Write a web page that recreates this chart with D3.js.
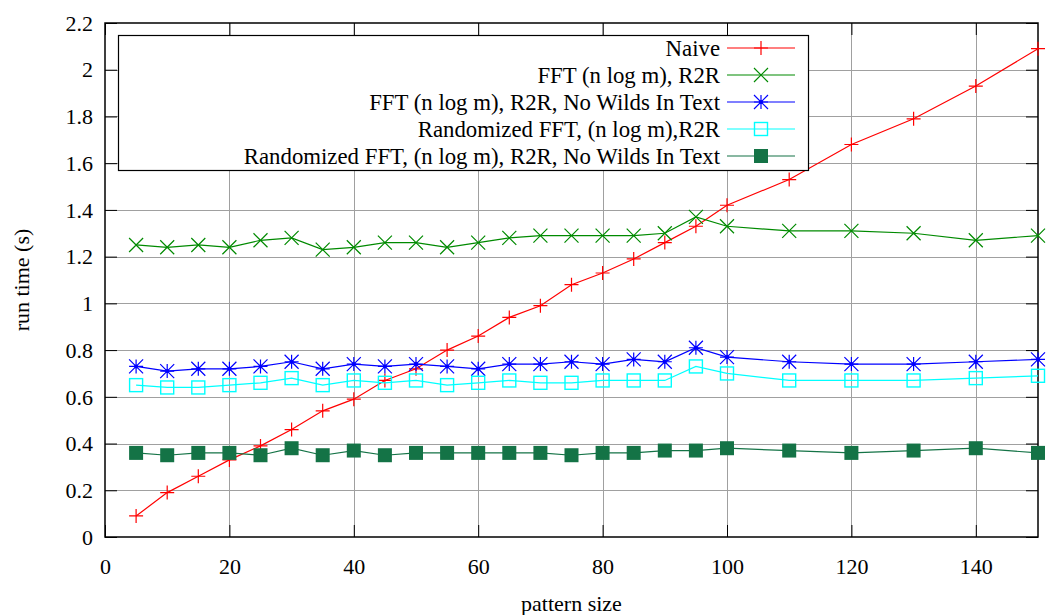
<!DOCTYPE html>
<html>
<head>
<meta charset="utf-8">
<script src="https://cdn.jsdelivr.net/npm/d3@7"></script>
<style>
  html, body { margin: 0; padding: 0; background: #fff; }
  svg, svg text { font-family: "Liberation Serif", "DejaVu Serif", serif; }
  svg { display: block; }
</style>
</head>
<body>
<svg id="chart" width="1047" height="615"></svg>
<script>
// Pattern sizes measured
const patternSizes = [5, 10, 15, 20, 25, 30, 35, 40, 45, 50, 55, 60, 65, 70, 75, 80, 85, 90, 95, 100, 110, 120, 130, 140, 150];

// Run times (seconds) per algorithm
const naive        = [0.09, 0.19, 0.26, 0.33, 0.39, 0.46, 0.54, 0.59, 0.67, 0.72, 0.80, 0.86, 0.94, 0.99, 1.08, 1.13, 1.19, 1.26, 1.33, 1.42, 1.53, 1.68, 1.79, 1.93, 2.09];
const fftR2R       = [1.25, 1.24, 1.25, 1.24, 1.27, 1.28, 1.23, 1.24, 1.26, 1.26, 1.24, 1.26, 1.28, 1.29, 1.29, 1.29, 1.29, 1.30, 1.37, 1.33, 1.31, 1.31, 1.30, 1.27, 1.29];
const fftNoWilds   = [0.73, 0.71, 0.72, 0.72, 0.73, 0.75, 0.72, 0.74, 0.73, 0.74, 0.73, 0.72, 0.74, 0.74, 0.75, 0.74, 0.76, 0.75, 0.81, 0.77, 0.75, 0.74, 0.74, 0.75, 0.76];
const randFFT      = [0.65, 0.64, 0.64, 0.65, 0.66, 0.68, 0.65, 0.67, 0.66, 0.67, 0.65, 0.66, 0.67, 0.66, 0.66, 0.67, 0.67, 0.67, 0.73, 0.70, 0.67, 0.67, 0.67, 0.68, 0.69];
const randNoWilds  = [0.36, 0.35, 0.36, 0.36, 0.35, 0.38, 0.35, 0.37, 0.35, 0.36, 0.36, 0.36, 0.36, 0.36, 0.35, 0.36, 0.36, 0.37, 0.37, 0.38, 0.37, 0.36, 0.37, 0.38, 0.36];

const seriesNames = [
  "Naive",
  "FFT (n log m), R2R",
  "FFT (n log m), R2R, No Wilds In Text",
  "Randomized FFT, (n log m),R2R",
  "Randomized FFT, (n log m), R2R, No Wilds In Text"
];

const xTicks = [0, 20, 40, 60, 80, 100, 120, 140];
const yTicks = [0, 0.2, 0.4, 0.6, 0.8, 1, 1.2, 1.4, 1.6, 1.8, 2, 2.2];

const series = [
  { name: seriesNames[0], values: naive,       color: "#ff0000", marker: "plus" },
  { name: seriesNames[1], values: fftR2R,      color: "#008a00", marker: "cross" },
  { name: seriesNames[2], values: fftNoWilds,  color: "#0000ff", marker: "star" },
  { name: seriesNames[3], values: randFFT,     color: "#00ffff", marker: "box" },
  { name: seriesNames[4], values: randNoWilds, color: "#147346", marker: "fbox" }
];

const FS = 22;
const svg = d3.select("#chart");
const W = 1047, H = 615;
const margin = { left: 105, right: W - 1038, top: 23, bottom: H - 537 };

const x = d3.scaleLinear().domain([0, 150]).range([margin.left, W - margin.right]);
const y = d3.scaleLinear().domain([0, 2.2]).range([H - margin.bottom, margin.top]);

const x0 = x.range()[0], x1 = x.range()[1], y0 = y.range()[0], y1 = y.range()[1];

// Grid
const grid = svg.append("g").attr("stroke", "#a0a0a0").attr("stroke-width", 1);
grid.selectAll("line.gx").data(xTicks.filter(d => d > 0)).join("line")
  .attr("x1", d => Math.round(x(d)) + 0.5).attr("x2", d => Math.round(x(d)) + 0.5)
  .attr("y1", y1).attr("y2", y0);
grid.selectAll("line.gy").data(yTicks.filter(d => d > 0 && d < 2.2)).join("line")
  .attr("y1", d => Math.round(y(d)) + 0.5).attr("y2", d => Math.round(y(d)) + 0.5)
  .attr("x1", x0).attr("x2", x1);

// Axes (ticks inward, mirrored on top and right)
const tickLen = 12;
const fmt = d3.format("~g");
const axL = d3.axisLeft(y).tickValues(yTicks).tickSize(-tickLen).tickFormat(fmt);
const axR = d3.axisRight(y).tickValues(yTicks).tickSize(-tickLen).tickFormat("");
const axB = d3.axisBottom(x).tickValues(xTicks).tickSize(-tickLen).tickFormat(fmt);
const axT = d3.axisTop(x).tickValues(xTicks).tickSize(-tickLen).tickFormat("");

function styleAxis(g) {
  g.attr("font-family", null).attr("font-size", FS);
  g.select(".domain").remove();
  g.selectAll(".tick line").attr("stroke", "#000");
  g.selectAll(".tick text").attr("fill", "#000");
}
svg.append("g").attr("transform", `translate(${x0},0)`).call(axL).call(styleAxis)
  .selectAll(".tick text").attr("x", -12).attr("dy", "0.33em");
svg.append("g").attr("transform", `translate(${x1},0)`).call(axR).call(styleAxis);
svg.append("g").attr("transform", `translate(0,${y0})`).call(axB).call(styleAxis)
  .selectAll(".tick text").attr("y", 37).attr("dy", 0);
svg.append("g").attr("transform", `translate(0,${y1})`).call(axT).call(styleAxis);

// Border
svg.append("rect").attr("x", x0).attr("y", y1).attr("width", x1 - x0).attr("height", y0 - y1)
  .attr("fill", "none").attr("stroke", "#000").attr("stroke-width", 1.5);

// Marker drawing
function drawMarker(g, type, cx, cy, color) {
  const s = 7;
  if (type === "plus") {
    g.append("path").attr("d", `M${cx - s},${cy}H${cx + s}M${cx},${cy - s}V${cy + s}`)
      .attr("stroke", color).attr("stroke-width", 1.2).attr("fill", "none");
  } else if (type === "cross") {
    g.append("path").attr("d", `M${cx - s},${cy - s}L${cx + s},${cy + s}M${cx - s},${cy + s}L${cx + s},${cy - s}`)
      .attr("stroke", color).attr("stroke-width", 1.2).attr("fill", "none");
  } else if (type === "star") {
    g.append("path").attr("d",
      `M${cx - s},${cy}H${cx + s}M${cx},${cy - s}V${cy + s}M${cx - s},${cy - s}L${cx + s},${cy + s}M${cx - s},${cy + s}L${cx + s},${cy - s}`)
      .attr("stroke", color).attr("stroke-width", 1.2).attr("fill", "none");
    g.append("circle").attr("cx", cx).attr("cy", cy).attr("r", 2).attr("fill", color);
  } else if (type === "box") {
    g.append("rect").attr("x", cx - 6.5).attr("y", cy - 6.5).attr("width", 13).attr("height", 13)
      .attr("fill", "none").attr("stroke", color).attr("stroke-width", 1.4);
  } else if (type === "fbox") {
    g.append("rect").attr("x", cx - 7).attr("y", cy - 7).attr("width", 14).attr("height", 14)
      .attr("fill", color);
  }
}

// Series lines + markers
const line = d3.line().x((d, i) => x(patternSizes[i])).y(d => y(d));
const plot = svg.append("g");
series.forEach(s => {
  const g = plot.append("g");
  g.append("path").attr("d", line(s.values)).attr("fill", "none")
    .attr("stroke", s.color).attr("stroke-width", 1.2);
  s.values.forEach((v, i) => drawMarker(g, s.marker, x(patternSizes[i]), y(v), s.color));
});

// Legend
const lg = svg.append("g");
const lgX = 118, lgY = 35, lgW = 690, lgH = 135;
lg.append("rect").attr("x", lgX + 0.5).attr("y", lgY + 0.5).attr("width", lgW).attr("height", lgH)
  .attr("fill", "#fff").attr("stroke", "#000").attr("stroke-width", 1.2);
series.forEach((s, i) => {
  const ry = 48 + i * 27;
  lg.append("text").attr("x", 720).attr("y", ry).attr("dy", "0.33em")
    .attr("text-anchor", "end").attr("font-size", 22.8).text(s.name);
  lg.append("line").attr("x1", 727).attr("x2", 795).attr("y1", ry).attr("y2", ry)
    .attr("stroke", s.color).attr("stroke-width", 1.2);
  drawMarker(lg, s.marker, 761, ry, s.color);
});

// Axis titles
svg.append("text").attr("x", (x0 + x1) / 2).attr("y", 611).attr("text-anchor", "middle")
  .attr("font-size", FS).text("pattern size");
svg.append("text").attr("transform", `translate(29,${(y0 + y1) / 2}) rotate(-90)`)
  .attr("text-anchor", "middle").attr("font-size", FS).text("run time (s)");
</script>
</body>
</html>
